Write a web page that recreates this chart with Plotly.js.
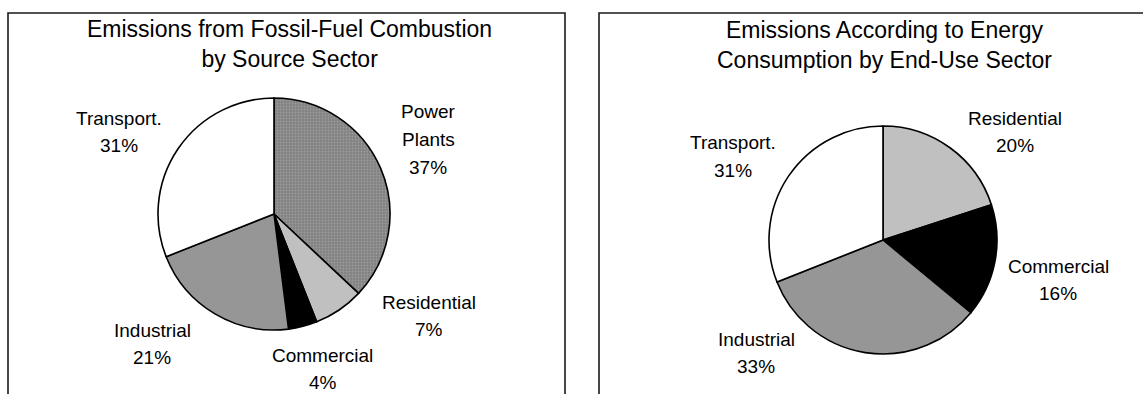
<!DOCTYPE html>
<html>
<head>
<meta charset="utf-8">
<script src="https://cdn.plot.ly/plotly-3.0.1.min.js"></script>
<style>
html,body{margin:0;padding:0;background:#fff;}
#chart{width:1143px;height:394px;}
</style>
</head>
<body>
<div id="chart"></div>
<script>
// ---- data ----
const sourceSectors = ["Power Plants", "Residential", "Commercial", "Industrial", "Transport."];
const sourceShares = [37, 7, 4, 21, 31];
const endUseSectors = ["Residential", "Commercial", "Industrial", "Transport."];
const endUseShares = [20, 16, 33, 31];
const leftTitle = "Emissions from Fossil-Fuel Combustion<br>by Source Sector";
const rightTitle = "Emissions According to Energy<br>Consumption by End-Use Sector";

// ---- styling / layout helpers ----
const W = 1143, H = 394;
const px = x => x / W;
const py = y => 1 - y / H;
const sectorColor = {
  "Power Plants": "#878787",
  "Residential": "#c0c0c0",
  "Commercial": "#000000",
  "Industrial": "#969696",
  "Transport.": "#ffffff"
};
const FONT = "Liberation Sans, Arial, sans-serif";

function pieTrace(labels, values, cx, cy, r) {
  return {
    type: "pie",
    labels: labels,
    values: values,
    sort: false,
    direction: "clockwise",
    rotation: 0,
    textinfo: "none",
    hoverinfo: "label+percent",
    showlegend: false,
    domain: { x: [px(cx - r), px(cx + r)], y: [py(cy + r), py(cy - r)] },
    marker: {
      colors: labels.map(l => sectorColor[l]),
      line: { color: "#000", width: 1.6 },
      pattern: {
        shape: labels.map(l => l === "Power Plants" ? "." : ""),
        fgcolor: "#9c9c9c",
        bgcolor: "#828282",
        size: 3,
        solidity: 0.3
      }
    }
  };
}

// label anchor positions (pixel centres of the first text line)
const leftLabelPos = {
  "Power Plants": [428, 112],
  "Residential": [429, 302],
  "Commercial": [323, 355],
  "Industrial": [152, 330],
  "Transport.": [119, 118]
};
const rightLabelPos = {
  "Residential": [1015, 118],
  "Commercial": [1058, 266],
  "Industrial": [756, 339],
  "Transport.": [733, 143]
};
const LINE = 27.5;

function labelAnnotations(labels, values, pos) {
  const anns = [];
  labels.forEach((lab, i) => {
    const lines = lab.split(" ").filter(s => s.length);
    lines.push(values[i] + "%");
    const [x, y] = pos[lab];
    lines.forEach((t, j) => {
      anns.push({
        xref: "paper", yref: "paper",
        x: px(x), y: py(y + j * LINE),
        xanchor: "center", yanchor: "middle",
        text: t, showarrow: false,
        font: { family: FONT, size: 19, color: "#000" }
      });
    });
  });
  return anns;
}

const titleAnn = (text, x, y) => ({
  xref: "paper", yref: "paper", x: px(x), y: py(y),
  xanchor: "center", yanchor: "middle", text: text, showarrow: false,
  font: { family: FONT, size: 23, color: "#000" }
});

const data = [
  pieTrace(sourceSectors, sourceShares, 274, 214, 116),
  pieTrace(endUseSectors, endUseShares, 883, 240, 114)
];

const layout = {
  width: W, height: H,
  margin: { l: 0, r: 0, t: 0, b: 0 },
  paper_bgcolor: "#fff",
  plot_bgcolor: "#fff",
  font: { family: FONT, color: "#000" },
  shapes: [
    { type: "rect", xref: "paper", yref: "paper", x0: px(8), x1: px(565), y0: py(420), y1: py(13),
      line: { color: "#1a1a1a", width: 1.6 }, fillcolor: "rgba(0,0,0,0)", layer: "below" },
    { type: "rect", xref: "paper", yref: "paper", x0: px(599), x1: px(1170), y0: py(420), y1: py(13),
      line: { color: "#1a1a1a", width: 1.6 }, fillcolor: "rgba(0,0,0,0)", layer: "below" }
  ],
  annotations: [
    titleAnn(leftTitle, 289, 44),
    titleAnn(rightTitle, 884, 45)
  ].concat(labelAnnotations(sourceSectors, sourceShares, leftLabelPos))
   .concat(labelAnnotations(endUseSectors, endUseShares, rightLabelPos))
};

Plotly.newPlot("chart", data, layout, { displayModeBar: false, staticPlot: true });
</script>
</body>
</html>
